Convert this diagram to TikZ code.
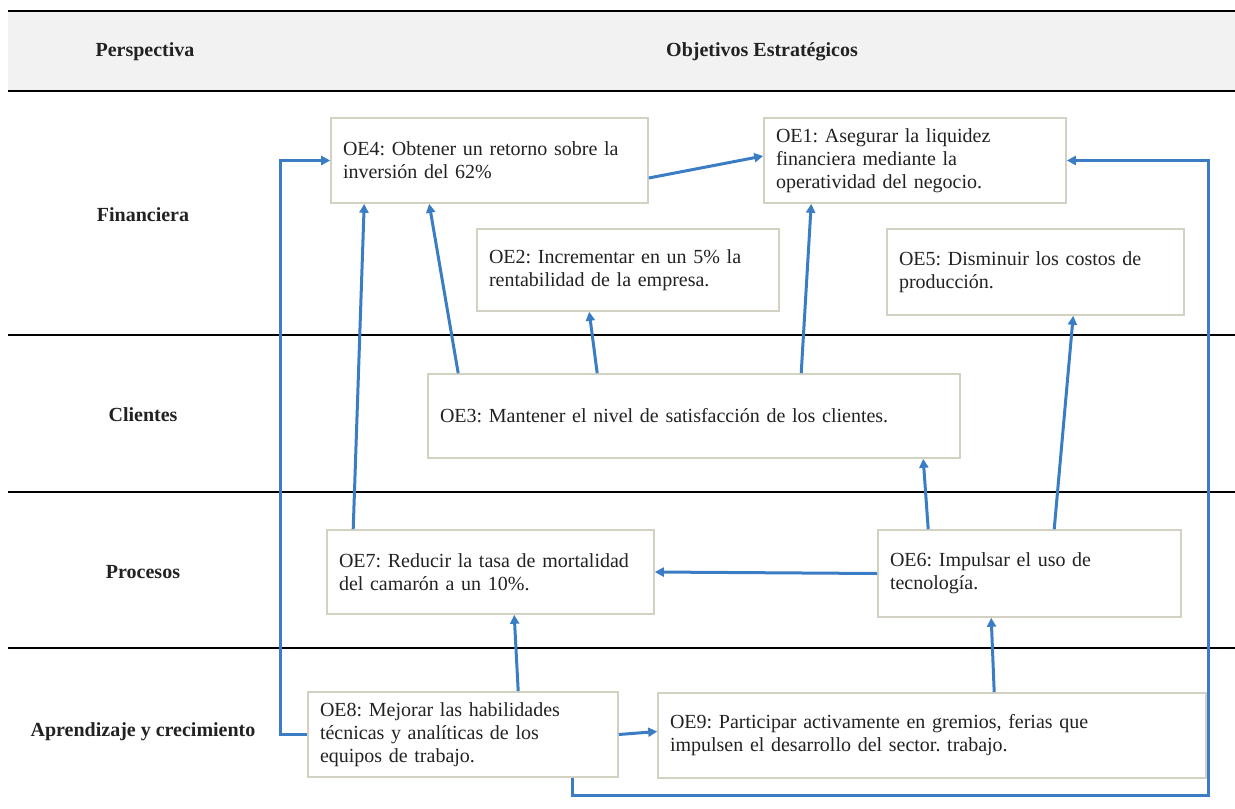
\documentclass[tikz,border=0pt]{standalone}
\usepackage{fontspec}
\setmainfont{Liberation Serif}
\usepackage{tikz}
\usetikzlibrary{arrows.meta}
\frenchspacing

\definecolor{azul}{HTML}{3B7DC4}
\definecolor{borde}{HTML}{D3D1C1}
\definecolor{fondo}{HTML}{F2F2F2}
\definecolor{texto}{HTML}{222222}

\tikzset{
  objetivo/.style={draw=borde, line width=0.8pt, fill=white, align=left, inner xsep=6pt,
    text=texto, font=\fontsize{10}{11.5}\selectfont},
  flecha/.style={draw=azul, line width=1.5pt, -{Triangle[length=4.5pt,width=4.5pt]}},
  titulo/.style={text=texto, font=\fontsize{10}{12}\selectfont\bfseries}
}

\begin{document}
\begin{tikzpicture}[x=0.5pt,y=-0.5pt]
	\useasboundingbox (0,0) rectangle (1235,808);
	\fill[fondo] (8,11) rectangle (1235,91);
	\draw[line width=1pt] (8,11) -- (1235,11);
	\draw[line width=1pt] (8,91) -- (1235,91);
	\foreach \y in {335,492,648}
		\draw[line width=0.6pt] (8,\y) -- (1235,\y);
	
	\node[titulo] (persp) at (145,52) {Perspectiva};
	\node[titulo] (objest) at (762,52) {Objetivos Estratégicos};
	\node[titulo] (fin) at (143,215) {Financiera};
	\node[titulo] (cli) at (143,415) {Clientes};
	\node[titulo] (pro) at (143,572) {Procesos};
	\node[titulo] (apr) at (143,732) {Aprendizaje y crecimiento};
	
	\node[objetivo, text width=146.5pt, minimum height=42.5pt] (oe4) at (489.5,160.5)
		{OE4: Obtener un retorno sobre la\\ inversión del 62\%};
	\node[objetivo, text width=139pt, minimum height=42.5pt] (oe1) at (915,160.5)
		{OE1: Asegurar la liquidez\\ financiera mediante la\\ operatividad del negocio.};
	\node[objetivo, text width=139pt, minimum height=41pt] (oe2) at (628,270)
		{OE2: Incrementar en un 5\% la\\ rentabilidad de la empresa.};
	\node[objetivo, text width=136.5pt, minimum height=43pt] (oe5) at (1035.5,272)
		{OE5: Disminuir los costos de\\ producción.};
	\node[objetivo, text width=254pt, minimum height=42pt] (oe3) at (694,416)
		{OE3: Mantener el nivel de satisfacción de los clientes.};
	\node[objetivo, text width=151.5pt, minimum height=42pt] (oe7) at (490.5,572)
		{OE7: Reducir la tasa de mortalidad\\ del camarón a un 10\%.};
	\node[objetivo, text width=139.5pt, minimum height=43.5pt] (oe6) at (1029.5,573.5)
		{OE6: Impulsar el uso de\\ tecnología.};
	\node[objetivo, text width=143pt, minimum height=42.5pt] (oe8) at (463,734.5)
		{OE8: Mejorar las habilidades\\ técnicas y analíticas de los\\ equipos de trabajo.};
	\node[objetivo, text width=262pt, minimum height=42.5pt] (oe9) at (932,735.5)
		{OE9: Participar activamente en gremios, ferias que\\ impulsen el desarrollo del sector. trabajo.};
	
	\coordinate (retorno) at (1208,795);
	
	\draw[flecha] ([yshift=-8.75pt]oe4.east) -- ([yshift=2.25pt]oe1.west);
	\draw[flecha] (oe8.west) -- ++(-13.5pt,0) |- (oe4.west);
	\draw[flecha] ([xshift=132.5pt]oe8.south west) |- (retorno) |- (oe1.east);
	\draw[flecha] ([xshift=13.5pt]oe7.north west) -- ([xshift=17pt]oe4.south west);
	\draw[flecha] ([xshift=15.5pt]oe3.north west) -- ([xshift=49.5pt]oe4.south west);
	\draw[flecha] ([xshift=85pt]oe3.north west) -- ([xshift=56.5pt]oe2.south west);
	\draw[flecha] ([xshift=187pt]oe3.north west) -- ([xshift=24pt]oe1.south west);
	\draw[flecha] ([xshift=25.5pt]oe6.north west) -- ([xshift=248pt]oe3.south west);
	\draw[flecha] ([xshift=88.5pt]oe6.north west) -- ([xshift=93.5pt]oe5.south west);
	\draw[flecha] (oe6.west) -- (oe7.east);
	\draw[flecha] ([xshift=105.5pt]oe8.north west) -- ([xshift=94pt]oe7.south west);
	\draw[flecha] (oe8.east) -- ([yshift=2pt]oe9.west);
	\draw[flecha] ([xshift=168.5pt]oe9.north west) -- ([xshift=57pt]oe6.south west);
\end{tikzpicture}
\end{document}
